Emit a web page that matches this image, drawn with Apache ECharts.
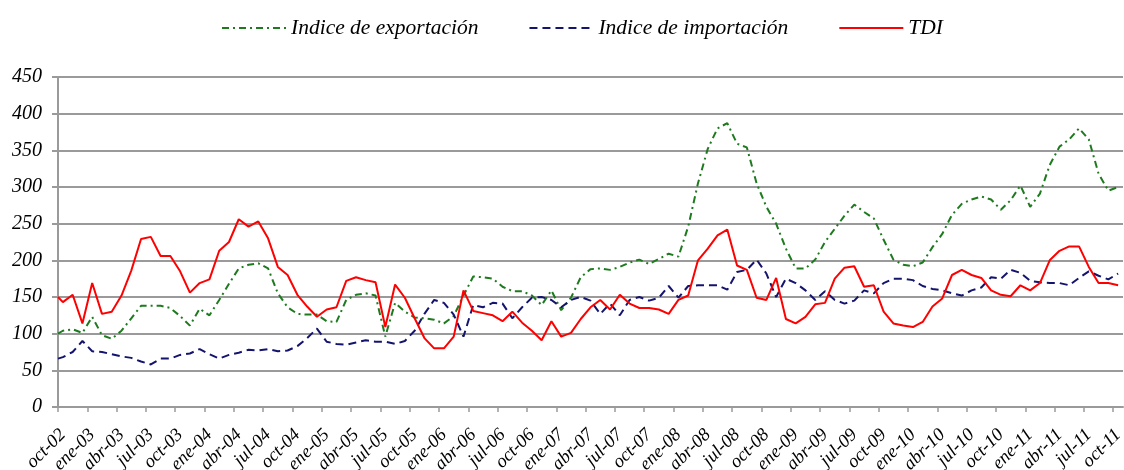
<!DOCTYPE html>
<html>
<head>
<meta charset="utf-8">
<script src="https://cdn.jsdelivr.net/npm/echarts@6/dist/echarts.min.js"></script>
<style>
  html, body { margin: 0; padding: 0; background: #fff; }
  #chart { width: 1124px; height: 470px; }
</style>
</head>
<body>
<div id="chart"></div>
<script>
// Quarterly tick labels, oct-02 .. oct-11 (one label every 3 months)
const tickLabels = [
  'oct-02','ene-03','abr-03','jul-03','oct-03','ene-04','abr-04','jul-04','oct-04',
  'ene-05','abr-05','jul-05','oct-05','ene-06','abr-06','jul-06','oct-06',
  'ene-07','abr-07','jul-07','oct-07','ene-08','abr-08','jul-08','oct-08',
  'ene-09','abr-09','jul-09','oct-09','ene-10','abr-10','jul-10','oct-10',
  'ene-11','abr-11','jul-11','oct-11'
];

const seriesNames = ['Indice de exportación', 'Indice de importación', 'TDI'];

// Opening level at the start of the period (oct-02 axis origin)
const openingValues = [100, 66, 150];

// Monthly values, oct-02 .. oct-11
const exportIndex = [
  104, 106, 101, 123, 98, 93, 104, 121, 138, 138, 138, 135,
  124, 111, 134, 125, 146, 168, 189, 194, 196, 189, 155, 136,
  127, 126, 126, 117, 116, 146, 153, 155, 152, 96, 142, 130,
  122, 121, 119, 114, 124, 152, 178, 177, 175, 164, 158, 158,
  152, 139, 159, 132, 149, 177, 188, 189, 187, 191, 197, 201,
  195, 202, 209, 205, 246, 305, 352, 380, 387, 359, 354, 305,
  273, 250, 216, 189, 189, 201, 225, 243, 261, 276, 266, 257,
  228, 201, 194, 192, 197, 218, 236, 262, 277, 283, 287, 283,
  269, 282, 302, 273, 291, 330, 355, 365, 380, 365, 318, 295,
  300
];

const importIndex = [
  68, 75, 90, 76, 75, 72, 69, 67, 62, 58, 66, 66,
  71, 73, 79, 72, 66, 71, 74, 78, 77, 79, 76, 77,
  83, 94, 107, 89, 86, 85, 88, 91, 89, 89, 86, 90,
  104, 127, 146, 142, 126, 96, 139, 136, 142, 141, 121, 136,
  149, 150, 146, 136, 146, 150, 145, 127, 141, 125, 146, 150,
  145, 149, 165, 149, 165, 166, 166, 166, 160, 184, 187, 201,
  182, 150, 175, 169, 159, 146, 158, 146, 141, 145, 159, 155,
  169, 175, 175, 173, 165, 161, 159, 155, 152, 159, 163, 177,
  175, 187, 183, 172, 170, 169, 169, 166, 176, 185, 179, 174,
  182
];

const tdi = [
  143, 153, 114, 169, 127, 130, 152, 186, 229, 232, 206, 206,
  185, 156, 169, 174, 213, 225, 256, 246, 253, 230, 191, 180,
  153, 137, 123, 133, 136, 172, 177, 173, 170, 109, 167, 149,
  121, 94, 80, 80, 96, 159, 131, 128, 125, 117, 130, 115,
  104, 91, 117, 96, 101, 120, 136, 146, 133, 153, 141, 135,
  135, 133, 127, 146, 152, 200, 216, 234, 242, 193, 187, 149,
  146, 176, 120, 114, 123, 140, 142, 175, 190, 192, 164, 166,
  130, 114, 111, 109, 116, 137, 148, 180, 187, 180, 176, 159,
  153, 151, 166, 159, 169, 200, 213, 219, 219, 191, 169, 169,
  166
];

const seriesValues = [exportIndex, importIndex, tdi];
const seriesColors = ['#1e7a1e', '#14146e', '#ff0000'];
const seriesDash = [[7, 4, 2, 4], [8, 5], 'solid'];

const MONTHS_PER_TICK = 3;
const LABEL_SHIFT = 0.5;   // slanted labels hang half a month right of their tick
const axisMonths = exportIndex.length;
const tickValues = tickLabels.map((_, k) => k * MONTHS_PER_TICK);
const labelValues = tickValues.map(v => v + LABEL_SHIFT);

// each monthly value sits at the middle of its month; the line opens at the axis origin
function toPoints(values, opening) {
  const pts = [[0, opening]];
  values.forEach((v, i) => pts.push([i + 0.5, v]));
  return pts;
}

const FONT = 'Liberation Serif';

const option = {
  animation: false,
  backgroundColor: '#ffffff',
  legend: {
    top: 12,
    left: 216,
    itemWidth: 64,
    itemHeight: 12,
    itemGap: 50,
    itemStyle: { opacity: 0 },
    textStyle: { fontFamily: FONT, fontStyle: 'italic', fontSize: 21.5, color: '#000' },
    data: seriesNames
  },
  grid: { left: 58, right: 1, top: 77, bottom: 63, containLabel: false, outerBoundsMode: 'none' },
  xAxis: {
    type: 'value',
    min: 0,
    max: axisMonths,
    interval: MONTHS_PER_TICK,
    axisLine: { show: true, lineStyle: { color: '#9a9a9a', width: 2 } },
    axisTick: {
      show: true, inside: false, length: 5,
      lineStyle: { color: '#9a9a9a', width: 1.5 },
      customValues: tickValues
    },
    axisLabel: {
      rotate: 45,
      margin: 25,
      hideOverlap: false,
      fontFamily: FONT, fontStyle: 'italic', fontSize: 18.5, color: '#000',
      customValues: labelValues,
      formatter: (v) => {
        const k = Math.round((v - LABEL_SHIFT) / MONTHS_PER_TICK);
        return (Math.abs(v - LABEL_SHIFT - k * MONTHS_PER_TICK) < 1e-6 && tickLabels[k]) ? tickLabels[k] : '';
      }
    },
    splitLine: { show: false }
  },
  yAxis: {
    type: 'value',
    min: 0,
    max: 450,
    interval: 50,
    axisLine: { show: true, lineStyle: { color: '#9a9a9a', width: 2 } },
    axisTick: { show: true, length: 6, lineStyle: { color: '#9a9a9a', width: 2 } },
    axisLabel: {
      margin: 16,
      fontFamily: FONT, fontStyle: 'italic', fontSize: 20, color: '#000'
    },
    splitLine: { show: true, lineStyle: { color: '#9a9a9a', width: 2 } }
  },
  series: seriesNames.map((name, s) => ({
    name,
    type: 'line',
    symbol: 'none',
    data: toPoints(seriesValues[s], openingValues[s]),
    lineStyle: { color: seriesColors[s], width: 2, type: seriesDash[s] },
    itemStyle: { color: seriesColors[s] },
    z: 3 + s
  }))
};

const chart = echarts.init(document.getElementById('chart'), null, { renderer: 'canvas' });
chart.setOption(option);
</script>
</body>
</html>
